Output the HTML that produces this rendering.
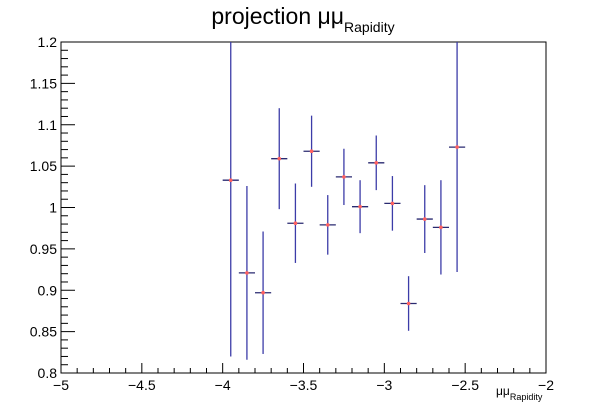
<!DOCTYPE html>
<html><head><meta charset="utf-8"><style>
body{margin:0;background:#fff}
svg{display:block;font-family:"Liberation Sans",sans-serif}
</style></head><body>
<svg id="c" width="606" height="412">
<rect width="606" height="412" fill="#fff"/>
<text x="303" y="24" text-anchor="middle" font-size="23">projection μμ<tspan font-size="14" dy="8">Rapidity</tspan></text>
<text x="496" y="395" font-size="12">μμ<tspan font-size="9" dy="5">Rapidity</tspan></text>
<g id="axes"></g><g id="marks"></g>
</svg>
<script>
const xCenters=[-3.95,-3.85,-3.75,-3.65,-3.55,-3.45,-3.35,-3.25,-3.15,-3.05,-2.95,-2.85,-2.75,-2.65,-2.55];
const yValues=[1.033,0.921,0.897,1.059,0.981,1.068,0.979,1.037,1.001,1.054,1.005,0.884,0.986,0.976,1.073];
const yErrors=[0.213,0.105,0.074,0.061,0.048,0.043,0.036,0.034,0.032,0.033,0.033,0.033,0.041,0.057,0.151];
const xTicks=[-5,-4.5,-4,-3.5,-3,-2.5,-2];
const xTickLabels=["−5","−4.5","−4","−3.5","−3","−2.5","−2"];
const yTicks=[0.8,0.85,0.9,0.95,1,1.05,1.1,1.15,1.2];
const yTickLabels=["0.8","0.85","0.9","0.95","1","1.05","1.1","1.15","1.2"];
const L=61,R=546,T=42,B=373,x0=-5,x1=-2,y0=0.8,y1=1.2,bw=0.1;
const X=v=>L+(v-x0)/(x1-x0)*(R-L);
const Y=v=>B-(v-y0)/(y1-y0)*(B-T);
const NS="http://www.w3.org/2000/svg";
function mk(p,t,a){const e=document.createElementNS(NS,t);for(const k in a)e.setAttribute(k,a[k]);p.appendChild(e);return e;}
const ax=document.getElementById('axes'),mg=document.getElementById('marks');
const fr=mk(ax,'rect',{x:L,y:T,width:R-L,height:B-T,fill:'none',stroke:'#000','stroke-width':1});


for(let i=0;i<=30;i++){const v=x0+i*0.1,maj=i%5==0;
 const t=mk(ax,'line',{x1:X(v),x2:X(v),y1:B,y2:B-(maj?10:5),stroke:'#000'});
 
 }
xTicks.forEach((v,i)=>{const t=mk(ax,'text',{x:X(v),y:B+17,'text-anchor':'middle','font-size':14});t.textContent=xTickLabels[i];
 
 });
for(let i=0;i<=40;i++){const v=y0+i*0.01,maj=i%5==0;
 const t=mk(ax,'line',{x1:L,x2:L+(maj?14:7),y1:Y(v),y2:Y(v),stroke:'#000'});
 
 }
yTicks.forEach((v,i)=>{const t=mk(ax,'text',{x:L-4,y:Y(v)+5,'text-anchor':'end','font-size':14});t.textContent=yTickLabels[i];
 
 });
xCenters.forEach((c,i)=>{const v=yValues[i],e=yErrors[i];
 const g=mk(mg,'g',{});
 
 
 const top=Math.max(T,Y(v+e)),bot=Math.min(B,Y(v-e));
 mk(g,'line',{x1:X(c),x2:X(c),y1:top,y2:bot,stroke:'#3c3ca8','stroke-width':1.3});
 mk(g,'line',{x1:X(c-bw/2),x2:X(c+bw/2),y1:Y(v),y2:Y(v),stroke:'#2a2a70','stroke-width':1.3});
 mk(g,'circle',{cx:X(c),cy:Y(v),r:1.8,fill:'#ff6060'});
});
</script>
</body></html>
